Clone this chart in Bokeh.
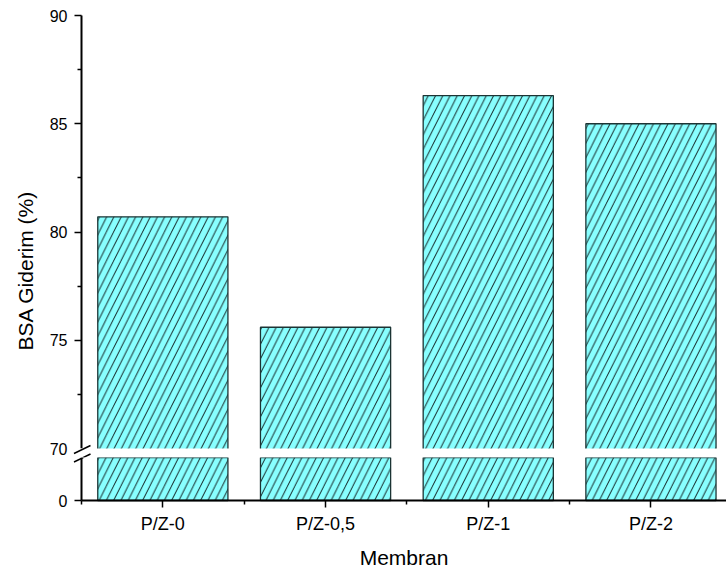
import math
from bokeh.plotting import figure
from bokeh.models import Range1d, FixedTicker, Label, Arrow, BoxAnnotation
from bokeh.layouts import column
from bokeh.embed import file_html
from bokeh.resources import INLINE

# ---- data ----
categories = ["P/Z-0", "P/Z-0,5", "P/Z-1", "P/Z-2"]
removal = [80.7, 75.6, 86.3, 85.0]
y_ticks_upper = [70, 75, 80, 85, 90]
y_minor_upper = [72.5, 77.5, 82.5, 87.5]
y_ticks_lower = [0]
lower_break = 2          # top of the lower axis segment
x_title = "Membran"
y_title = "BSA Giderim (%)"

positions = list(range(1, len(categories) + 1))
boundaries = [p - 0.5 for p in positions] + [positions[-1] + 0.5]

FONT = "Liberation Sans"
FILL = "#88ffff"
EDGE = "#1c3434"

# ---- layout in page pixels ----
W, H = 726, 573
AXIS_X = 81              # y axis position
PX_PER_CAT = 162.7
X0 = 0.5                 # axis sits at the left category boundary
XL = X0 - AXIS_X / PX_PER_CAT
XR = X0 + (W - AXIS_X) / PX_PER_CAT

U_TOP, U_BOT = 15, 448   # pixel rows of 90 and 70
L_TOP, L_BOT = 457, 500  # pixel rows of lower_break and 0
SPLIT = L_TOP            # boundary between the two panels
u_scale = (U_BOT - U_TOP) / (y_ticks_upper[-1] - y_ticks_upper[0])
l_scale = (L_BOT - L_TOP) / (lower_break - y_ticks_lower[0])
U_RANGE = (y_ticks_upper[0] - (SPLIT - U_BOT) / u_scale,
           y_ticks_upper[-1] + U_TOP / u_scale)
L_RANGE = (y_ticks_lower[0] - (H - L_BOT) / l_scale, lower_break)

P1_H = SPLIT
P2_H = H - SPLIT


def dx(px):
    return XL + px / PX_PER_CAT


def dy_u(py):
    return U_RANGE[1] - py / u_scale


def dy_l(py):
    return L_RANGE[1] - (py - SPLIT) / l_scale


def style_axis(ax, loc):
    ax.fixed_location = loc
    ax.axis_line_width = 2
    ax.axis_line_color = "black"
    ax.major_tick_out = 7
    ax.major_tick_in = 0
    ax.minor_tick_out = 4
    ax.minor_tick_in = 0
    ax.major_tick_line_width = 1.5
    ax.minor_tick_line_width = 1.5
    ax.major_label_text_font = FONT
    ax.major_label_text_color = "black"


def bars(p):
    p.vbar(x=positions, top=removal, bottom=0, width=0.8,
           fill_color=FILL, line_color=EDGE, line_width=1.3,
           hatch_pattern="/", hatch_color="black", hatch_weight=0.9,
           hatch_scale=14.5)


slashes = [((73.5, 453.0), (90.0, 445.0)), ((73.5, 461.5), (90.0, 453.5))]

# ---- upper panel ----
p1 = figure(width=W, height=P1_H, x_range=Range1d(XL, XR), y_range=Range1d(*U_RANGE),
            x_axis_location=None, output_backend="svg", toolbar_location=None,
            min_border_left=0, min_border_right=0, min_border_top=0, min_border_bottom=0)
p1.grid.visible = False
p1.outline_line_color = None
bars(p1)
p1.add_layout(BoxAnnotation(top=y_ticks_upper[0], fill_color="white", fill_alpha=1,
                            line_color=None))
ya1 = p1.yaxis[0]
style_axis(ya1, X0)
ya1.major_label_text_font_size = "16px"
ya1.major_label_standoff = 7
ya1.bounds = (y_ticks_upper[0], y_ticks_upper[-1])
ya1.ticker = FixedTicker(ticks=y_ticks_upper[1:], minor_ticks=y_minor_upper)

p1.add_layout(Label(x=dx(67), y=y_ticks_upper[0], text=str(y_ticks_upper[0]),
                    text_align="right", text_baseline="middle",
                    text_font=FONT, text_font_size="16px", text_color="black"))
p1.add_layout(Label(x=dx(25), y=dy_u(270), text=y_title, angle=math.pi / 2,
                    text_align="center", text_baseline="middle",
                    text_font=FONT, text_font_size="21px", text_color="black"))
for (a, b) in slashes:
    p1.add_layout(Arrow(end=None, x_start=dx(a[0]), y_start=dy_u(a[1]),
                        x_end=dx(b[0]), y_end=dy_u(b[1]),
                        line_color="black", line_width=1.5))

# ---- lower panel ----
p2 = figure(width=W, height=P2_H, x_range=p1.x_range, y_range=Range1d(*L_RANGE),
            output_backend="svg", toolbar_location=None,
            min_border_left=0, min_border_right=0, min_border_top=0, min_border_bottom=0)
p2.grid.visible = False
p2.outline_line_color = None
bars(p2)
ya2 = p2.yaxis[0]
style_axis(ya2, X0)
ya2.major_label_text_font_size = "16px"
ya2.major_label_standoff = 7
ya2.bounds = (y_ticks_lower[0], lower_break)
ya2.ticker = FixedTicker(ticks=y_ticks_lower, minor_ticks=[])

xa = p2.xaxis[0]
style_axis(xa, y_ticks_lower[0])
xa.bounds = (X0, XR)
xa.ticker = FixedTicker(ticks=positions, minor_ticks=boundaries)
xa.major_label_overrides = {p: c for p, c in zip(positions, categories)}
xa.major_label_text_font_size = "18px"
xa.major_label_standoff = 6
xa.axis_label = x_title
xa.axis_label_text_font = FONT
xa.axis_label_text_font_size = "21px"
xa.axis_label_text_font_style = "normal"
xa.axis_label_text_color = "black"
xa.axis_label_standoff = 9

for (a, b) in slashes:
    p2.add_layout(Arrow(end=None, x_start=dx(a[0]), y_start=dy_l(a[1]),
                        x_end=dx(b[0]), y_end=dy_l(b[1]),
                        line_color="black", line_width=1.5))

layout = column(p1, p2)
open("out.html", "w").write(file_html(layout, INLINE))
